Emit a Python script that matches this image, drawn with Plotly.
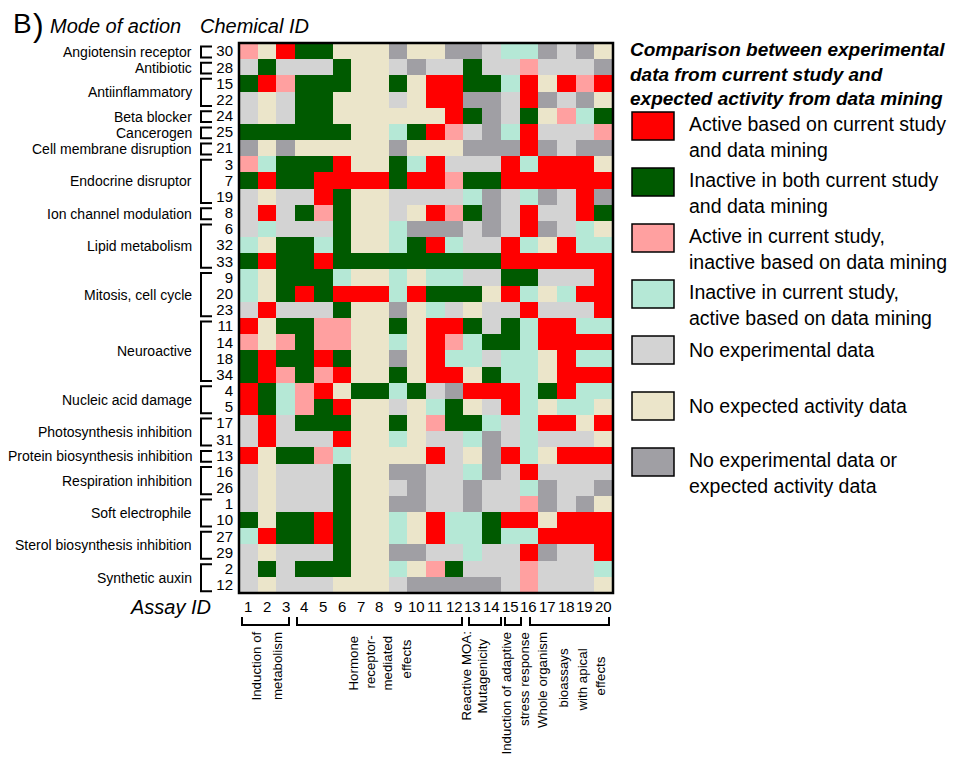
import plotly.graph_objects as go

# ---------------- data ----------------
chemical_ids = [30, 28, 15, 22, 24, 25, 21, 3, 7, 19, 8, 6, 32, 33, 9, 20, 23,
                11, 14, 18, 34, 4, 5, 17, 31, 13, 16, 26, 1, 10, 27, 29, 2, 12]
assay_ids = list(range(1, 21))

# status per cell: R active both, G inactive both, P active study/inactive mining,
# M inactive study/active mining, L no experimental data, B no expected data, D neither
cell_status = [
    "PBRGGBBBDBBDDLMMDLDB",  # 30
    "LGLLLGBBLDLLGLLPLLLD",  # 28
    "GRPGGGBBGBRRGGMRBRPR",  # 15
    "LBLGGBBBLBRRDDLRDLDB",  # 22
    "LBLGGBBBBBBRGDLGBPMG",  # 24
    "GGGGGGBBMGRPLDMRLLLP",  # 25
    "DBDBBBBBDBBBDDDRDLDD",  # 21
    "PMGGGRBBGMRLLLRMRRRB",  # 3
    "GRGGRRRRGRRPGGRRRRRR",  # 7
    "LBLLRGBBLLLLMDLMDLRD",  # 19
    "LRLGPGBBLBRPGDLRLLRG",  # 8
    "LMLLLGBBMDDDLDLRDLMB",  # 6
    "MBGGMGBBMGRMLLRMBRMM",  # 32
    "GRGGRGGGGGGGGGRRRRRR",  # 33
    "MBGGGMBBMBMMLLGGLLLR",  # 9
    "MBGRGRRRMRGGGBRMBMRR",  # 20
    "LRLLLGBBDBMLBLLRLLLR",  # 23
    "RBGGPPBBGBRRGLGMRRMM",  # 11
    "PBPGPPBBMBRPMGGMRRRR",  # 14
    "GRGGRGBBDBRMMLMMBRMM",  # 18
    "GRPGPRBBGBRRBGMMBRRR",  # 34
    "RGMPRBGGMGLDRRRMGRMM",  # 4
    "RGMPGRBBLBMGBLRMBMMB",  # 5
    "LRLGGGBBGBPGGMLMRRBR",  # 17
    "LRLLLRBBMBLLMDLMLLLB",  # 31
    "RBGGPMBBBBRLBDRMBRRR",  # 13
    "LBLLLGBBDDLLMDLRLLLL",  # 16
    "LBLLLGBBLDLLDLLMDLLD",  # 26
    "LBLLLGBBDDLLDLLPDLDB",  # 1
    "GBGGRGBBMBRMMGRRBRRR",  # 10
    "MRGGRGBBMBRMMGMMRRRR",  # 27
    "LBLLLGBBDDLLMLLRDLLR",  # 29
    "LGLGGGBBMBPGLLLPLLLM",  # 2
    "LBLLLBBBLDDDDDLPLLLB",  # 12
]

status_order = ["R", "G", "P", "M", "L", "B", "D"]
status_colors = ["#FF0000", "#005A00", "#FFA0A0", "#B5E8D6", "#D3D3D3", "#EBE5CA", "#A09FA4"]
status_labels = [
    "Active based on current study<br>and data mining",
    "Inactive in both current study<br>and data mining",
    "Active in current study,<br>inactive based on data mining",
    "Inactive in current study,<br>active based on data mining",
    "No experimental data",
    "No expected activity data",
    "No experimental data or<br>expected activity data",
]

mode_names = ["Angiotensin receptor", "Antibiotic", "Antiinflammatory", "Beta blocker",
              "Cancerogen", "Cell membrane disruption", "Endocrine disruptor",
              "Ion channel modulation", "Lipid metabolism", "Mitosis, cell cycle",
              "Neuroactive", "Nucleic acid damage", "Photosynthesis inhibition",
              "Protein biosynthesis inhibition", "Respiration inhibition",
              "Soft electrophile", "Sterol biosynthesis inhibition", "Synthetic auxin"]
mode_sizes = [1, 1, 2, 1, 1, 1, 3, 1, 3, 3, 4, 2, 2, 1, 2, 2, 2, 2]

assay_group_lines = [
    ["Induction of", "metabolism"],
    ["Hormone", "receptor-", "mediated", "effects"],
    ["Reactive MOA:", "Mutagenicity"],
    ["Induction of adaptive", "stress response"],
    ["Whole organism", "bioassays", "with apical", "effects"],
]

# ---------------- layout helpers ----------------
W, H = 960, 758
OFF = 8  # page body margin offset
L, R, T, Bt = 239 - OFF, 613 - OFF, 43 - OFF, 593 - OFF
PW, PH = R - L, Bt - T
FONT = "Liberation Sans, Arial, sans-serif"
nrows = len(chemical_ids)
rowh = PH / nrows


def fx(x):  # x in reference-screen pixels
    return (x - OFF - L) / PW


def fy(y):
    return 1 - (y - OFF - T) / PH


code = {s: i for i, s in enumerate(status_order)}
z = [[code[c] for c in row] for row in cell_status]
n = len(status_order)
colorscale = []
for i, c in enumerate(status_colors):
    colorscale.append([i / n, c])
    colorscale.append([(i + 1) / n, c])

fig = go.Figure(go.Heatmap(
    z=z, x=assay_ids, y=list(range(nrows)),
    zmin=-0.5, zmax=n - 0.5, colorscale=colorscale, showscale=False,
    xgap=0, ygap=0, hoverinfo="skip",
))

shapes = []
annotations = []

# frame
shapes.append(dict(type="rect", xref="paper", yref="paper", x0=0, x1=1, y0=0, y1=1,
                   line=dict(color="black", width=2.5)))

# left brackets and mode labels
start = 0
for name, size in zip(mode_names, mode_sizes):
    ytop = 43 + start * rowh + 3.5
    ybot = 43 + (start + size) * rowh - 1.8
    path = "M {a},{b} L {c},{b} L {c},{d} L {a},{d}".format(
        a=fx(212), b=fy(ytop), c=fx(201), d=fy(ybot))
    shapes.append(dict(type="path", xref="paper", yref="paper", path=path,
                       line=dict(color="black", width=2)))
    annotations.append(dict(x=fx(194), y=fy((ytop + ybot) / 2), xref="paper", yref="paper",
                            text=name, showarrow=False, xanchor="right", yanchor="middle",
                            font=dict(family=FONT, size=14, color="black")))
    start += size

# x tick labels (assay IDs)
for a in assay_ids:
    annotations.append(dict(x=a, y=fy(606), xref="x", yref="paper", text=str(a),
                            showarrow=False, xanchor="center", yanchor="middle",
                            font=dict(family=FONT, size=15, color="black")))

# bottom brackets
bracket_px = [(242, 289), (297, 462), (469, 501), (505, 521), (530, 609)]
for a, b in bracket_px:
    path = "M {x0},{y0} L {x0},{y1} L {x1},{y1} L {x1},{y0}".format(
        x0=fx(a), x1=fx(b), y0=fy(617), y1=fy(625))
    shapes.append(dict(type="path", xref="paper", yref="paper", path=path,
                       line=dict(color="black", width=2)))

# rotated group labels (x centre, top y)
line_pos = [
    [(256, 630), (277, 630)],
    [(353, 634), (370, 634), (387, 634), (406, 638)],
    [(466, 630), (482, 637)],
    [(506, 630), (524, 630)],
    [(542, 630), (563, 647), (582, 647), (600, 655)],
]
for lines, poss in zip(assay_group_lines, line_pos):
    for txt, (xc, yt) in zip(lines, poss):
        annotations.append(dict(x=fx(xc), y=fy(yt), xref="paper", yref="paper", text=txt,
                                showarrow=False, textangle=-90, xanchor="center", yanchor="top",
                                font=dict(family=FONT, size=13.3, color="black")))

# headers
hdr = [
    dict(x=fx(11), y=fy(24), text="B", xanchor="left", yanchor="middle",
         font=dict(family=FONT, size=28, color="black")),
    dict(x=fx(31), y=fy(25), text=")", xanchor="left", yanchor="middle",
         font=dict(family=FONT, size=32, color="black")),
    dict(x=fx(48), y=fy(26), text="<i>Mode of action</i>", xanchor="left", yanchor="middle",
         font=dict(family=FONT, size=20, color="black")),
    dict(x=fx(198), y=fy(26), text="<i>Chemical ID</i>", xanchor="left", yanchor="middle",
         font=dict(family=FONT, size=20, color="black")),
    dict(x=fx(213), y=fy(607), text="<i>Assay ID</i>", xanchor="right", yanchor="middle",
         font=dict(family=FONT, size=20, color="black")),
]
for a in hdr:
    a.update(xref="paper", yref="paper", showarrow=False)
annotations += hdr

# legend
annotations.append(dict(
    x=fx(628), y=fy(74), xref="paper", yref="paper", showarrow=False, align="left",
    xanchor="left", yanchor="middle",
    text="<b><i>Comparison between experimental<br>data from current study and<br>"
         "expected activity from data mining</i></b>",
    font=dict(family=FONT, size=19, color="black")))
for i, (col, lab) in enumerate(zip(status_colors, status_labels)):
    top = 112 + 56 * i
    shapes.append(dict(type="rect", xref="paper", yref="paper",
                       x0=fx(632), x1=fx(674), y0=fy(top), y1=fy(top + 28),
                       fillcolor=col, line=dict(color="black", width=1.5)))
    parts = lab.split("<br>")
    if len(parts) == 2:
        items = ((parts[0], top + 12), (parts[1], top + 38))
    else:
        items = ((parts[0], top + 14),)
    for txt, yc in items:
        annotations.append(dict(x=fx(687), y=fy(yc), xref="paper", yref="paper", text=txt,
                                showarrow=False, xanchor="left", yanchor="middle",
                                font=dict(family=FONT, size=19.5, color="black")))

fig.update_layout(
    width=W, height=H,
    margin=dict(l=L, r=W - R, t=T, b=H - Bt, pad=0),
    paper_bgcolor="white", plot_bgcolor="white",
    shapes=shapes, annotations=annotations,
    xaxis=dict(range=[0.5, 20.5], showticklabels=False, ticks="",
               showgrid=False, zeroline=False, showline=False, fixedrange=True),
    yaxis=dict(range=[nrows - 0.5, -0.5], tickvals=list(range(nrows)),
               ticktext=[str(c) for c in chemical_ids],
               showgrid=False, zeroline=False, showline=False, ticks="outside", ticklen=2,
               tickcolor="rgba(0,0,0,0)", tickfont=dict(family=FONT, size=15, color="black"),
               fixedrange=True),
    showlegend=False,
)

fig.write_html("out.html")
